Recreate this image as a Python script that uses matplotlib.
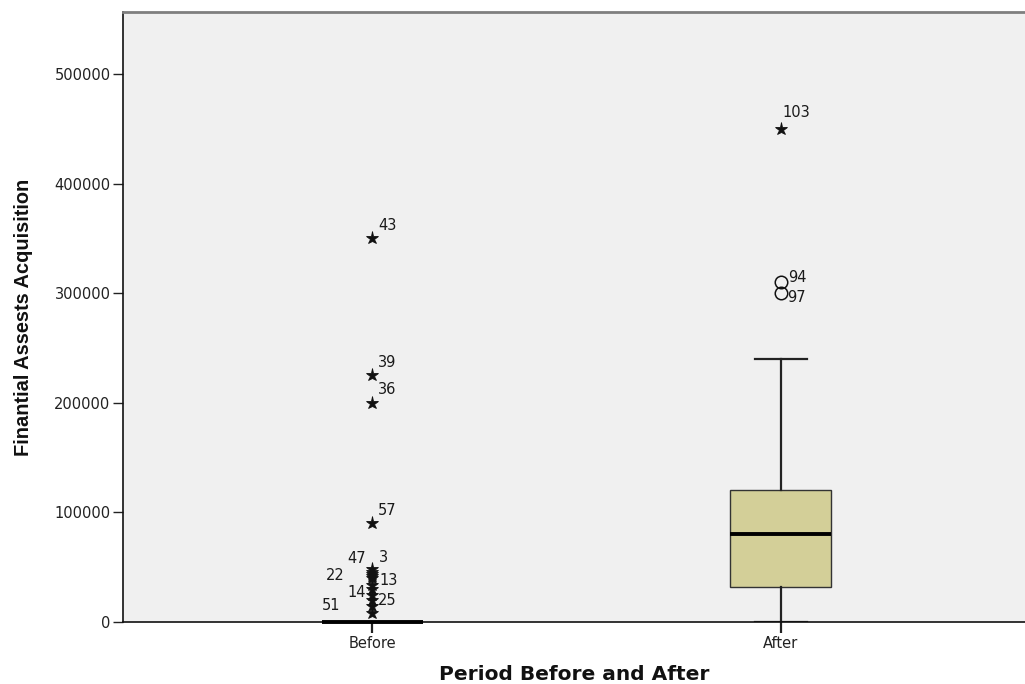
import matplotlib
matplotlib.use("Agg")
import matplotlib.pyplot as plt

# Summary statistics per period
groups = ["Before", "After"]
q1 = [0, 32000]
median = [0, 80000]
q3 = [0, 120000]
whisker_low = [0, 0]
whisker_high = [0, 240000]

# Extreme values (stars) and outliers (circles) with their case numbers
before_extreme_values = [350000, 225000, 200000, 90000, 48000, 46000, 44000,
                         42000, 40000, 34000, 30000, 25000, 20000, 15000, 8000]
before_extreme_ids = ["43", "39", "36", "57", "3", "47", "", "22", "13", "",
                      "14", "", "25", "", "51"]
after_extreme_values = [450000]
after_extreme_ids = ["103"]
after_outlier_values = [310000, 300000]
after_outlier_ids = ["94", "97"]

yticks = [0, 100000, 200000, 300000, 400000, 500000]

# label placement relative to the marker, in pixels (dx, dy, align)
label_offsets = {
    "43": (6, 13, "left"), "39": (6, 13, "left"), "36": (6, 13, "left"),
    "57": (6, 13, "left"), "3": (7, 12, "left"), "47": (-6, 13, "right"),
    "22": (-27, 0, "right"), "13": (7, -2, "left"), "14": (-6, -3, "right"),
    "25": (6, 0, "left"), "51": (-32, 8, "right"),
    "103": (2, 16, "left"), "94": (7, 5, "left"), "97": (6, -4, "left"),
}

fig = plt.figure(figsize=(10.25, 6.84), dpi=100)
ax = fig.add_axes([123 / 1025, 62 / 684, 1 - 123 / 1025, 610 / 684])
ax.set_facecolor("#f0f0f0")

positions = [1, 2]
stats = []
for i, g in enumerate(groups):
    stats.append(dict(label=g, q1=q1[i], med=median[i], q3=q3[i],
                      whislo=whisker_low[i], whishi=whisker_high[i], fliers=[]))

caps_w = [0.0, 0.127]
bp = ax.bxp(stats, positions=positions, widths=0.247, patch_artist=True,
            showfliers=False, capwidths=caps_w,
            boxprops=dict(facecolor="#d3cf98", edgecolor="#333333", linewidth=1.0),
            medianprops=dict(color="black", linewidth=2.8),
            whiskerprops=dict(color="#222222", linewidth=1.6),
            capprops=dict(color="#222222", linewidth=1.6))
for m in bp["medians"]:
    m.set_clip_on(False)
    m.set_zorder(5)
for c in bp["caps"][:2]:
    c.set_visible(False)


def draw_points(x, values, ids, marker, ms, mfc):
    ax.plot([x] * len(values), values, linestyle="none", marker=marker,
            markersize=ms, markerfacecolor=mfc, markeredgecolor="#111111",
            markeredgewidth=0.6 if marker == "*" else 1.1, zorder=4)
    for v, lab in zip(values, ids):
        if not lab:
            continue
        dx, dy, ha = label_offsets[lab]
        ax.annotate(lab, (x, v), xytext=(dx, dy), textcoords="offset pixels",
                    ha=ha, va="center", fontsize=10.5, color="#1a1a1a",
                    family="DejaVu Sans")


draw_points(1, before_extreme_values, before_extreme_ids, "*", 9.5, "#111111")
draw_points(2, after_extreme_values, after_extreme_ids, "*", 9.5, "#111111")
draw_points(2, after_outlier_values, after_outlier_ids, "o", 9, "none")

ax.set_xlim(0.391, 2.597)
ax.set_ylim(0, 556500)
ax.set_yticks(yticks)
ax.set_yticklabels([str(t) for t in yticks])
ax.set_xticks(positions)
ax.set_xticklabels(groups)

ax.tick_params(axis="y", direction="out", length=7, width=1, color="#222222",
               labelsize=10.5, labelcolor="#222222", pad=2)
ax.tick_params(axis="x", direction="out", length=8, width=1.6, color="#222222",
               labelsize=10.5, labelcolor="#222222", pad=2)
for lab in ax.get_xticklabels() + ax.get_yticklabels():
    lab.set_family("DejaVu Sans")

ax.spines["right"].set_visible(False)
ax.spines["top"].set_color("#7f7f7f")
ax.spines["top"].set_linewidth(2)
ax.spines["left"].set_color("#111111")
ax.spines["left"].set_linewidth(1.2)
ax.spines["bottom"].set_color("#111111")
ax.spines["bottom"].set_linewidth(1.2)

ax.set_xlabel("Period Before and After", fontsize=14.5, fontweight="bold",
              family="DejaVu Sans", color="#111111", labelpad=10)
ax.set_ylabel("Finantial Assests Acquisition", fontsize=14.4, fontweight="bold",
              family="Liberation Sans", color="#111111", labelpad=15)

fig.savefig("out.png", dpi=100)
